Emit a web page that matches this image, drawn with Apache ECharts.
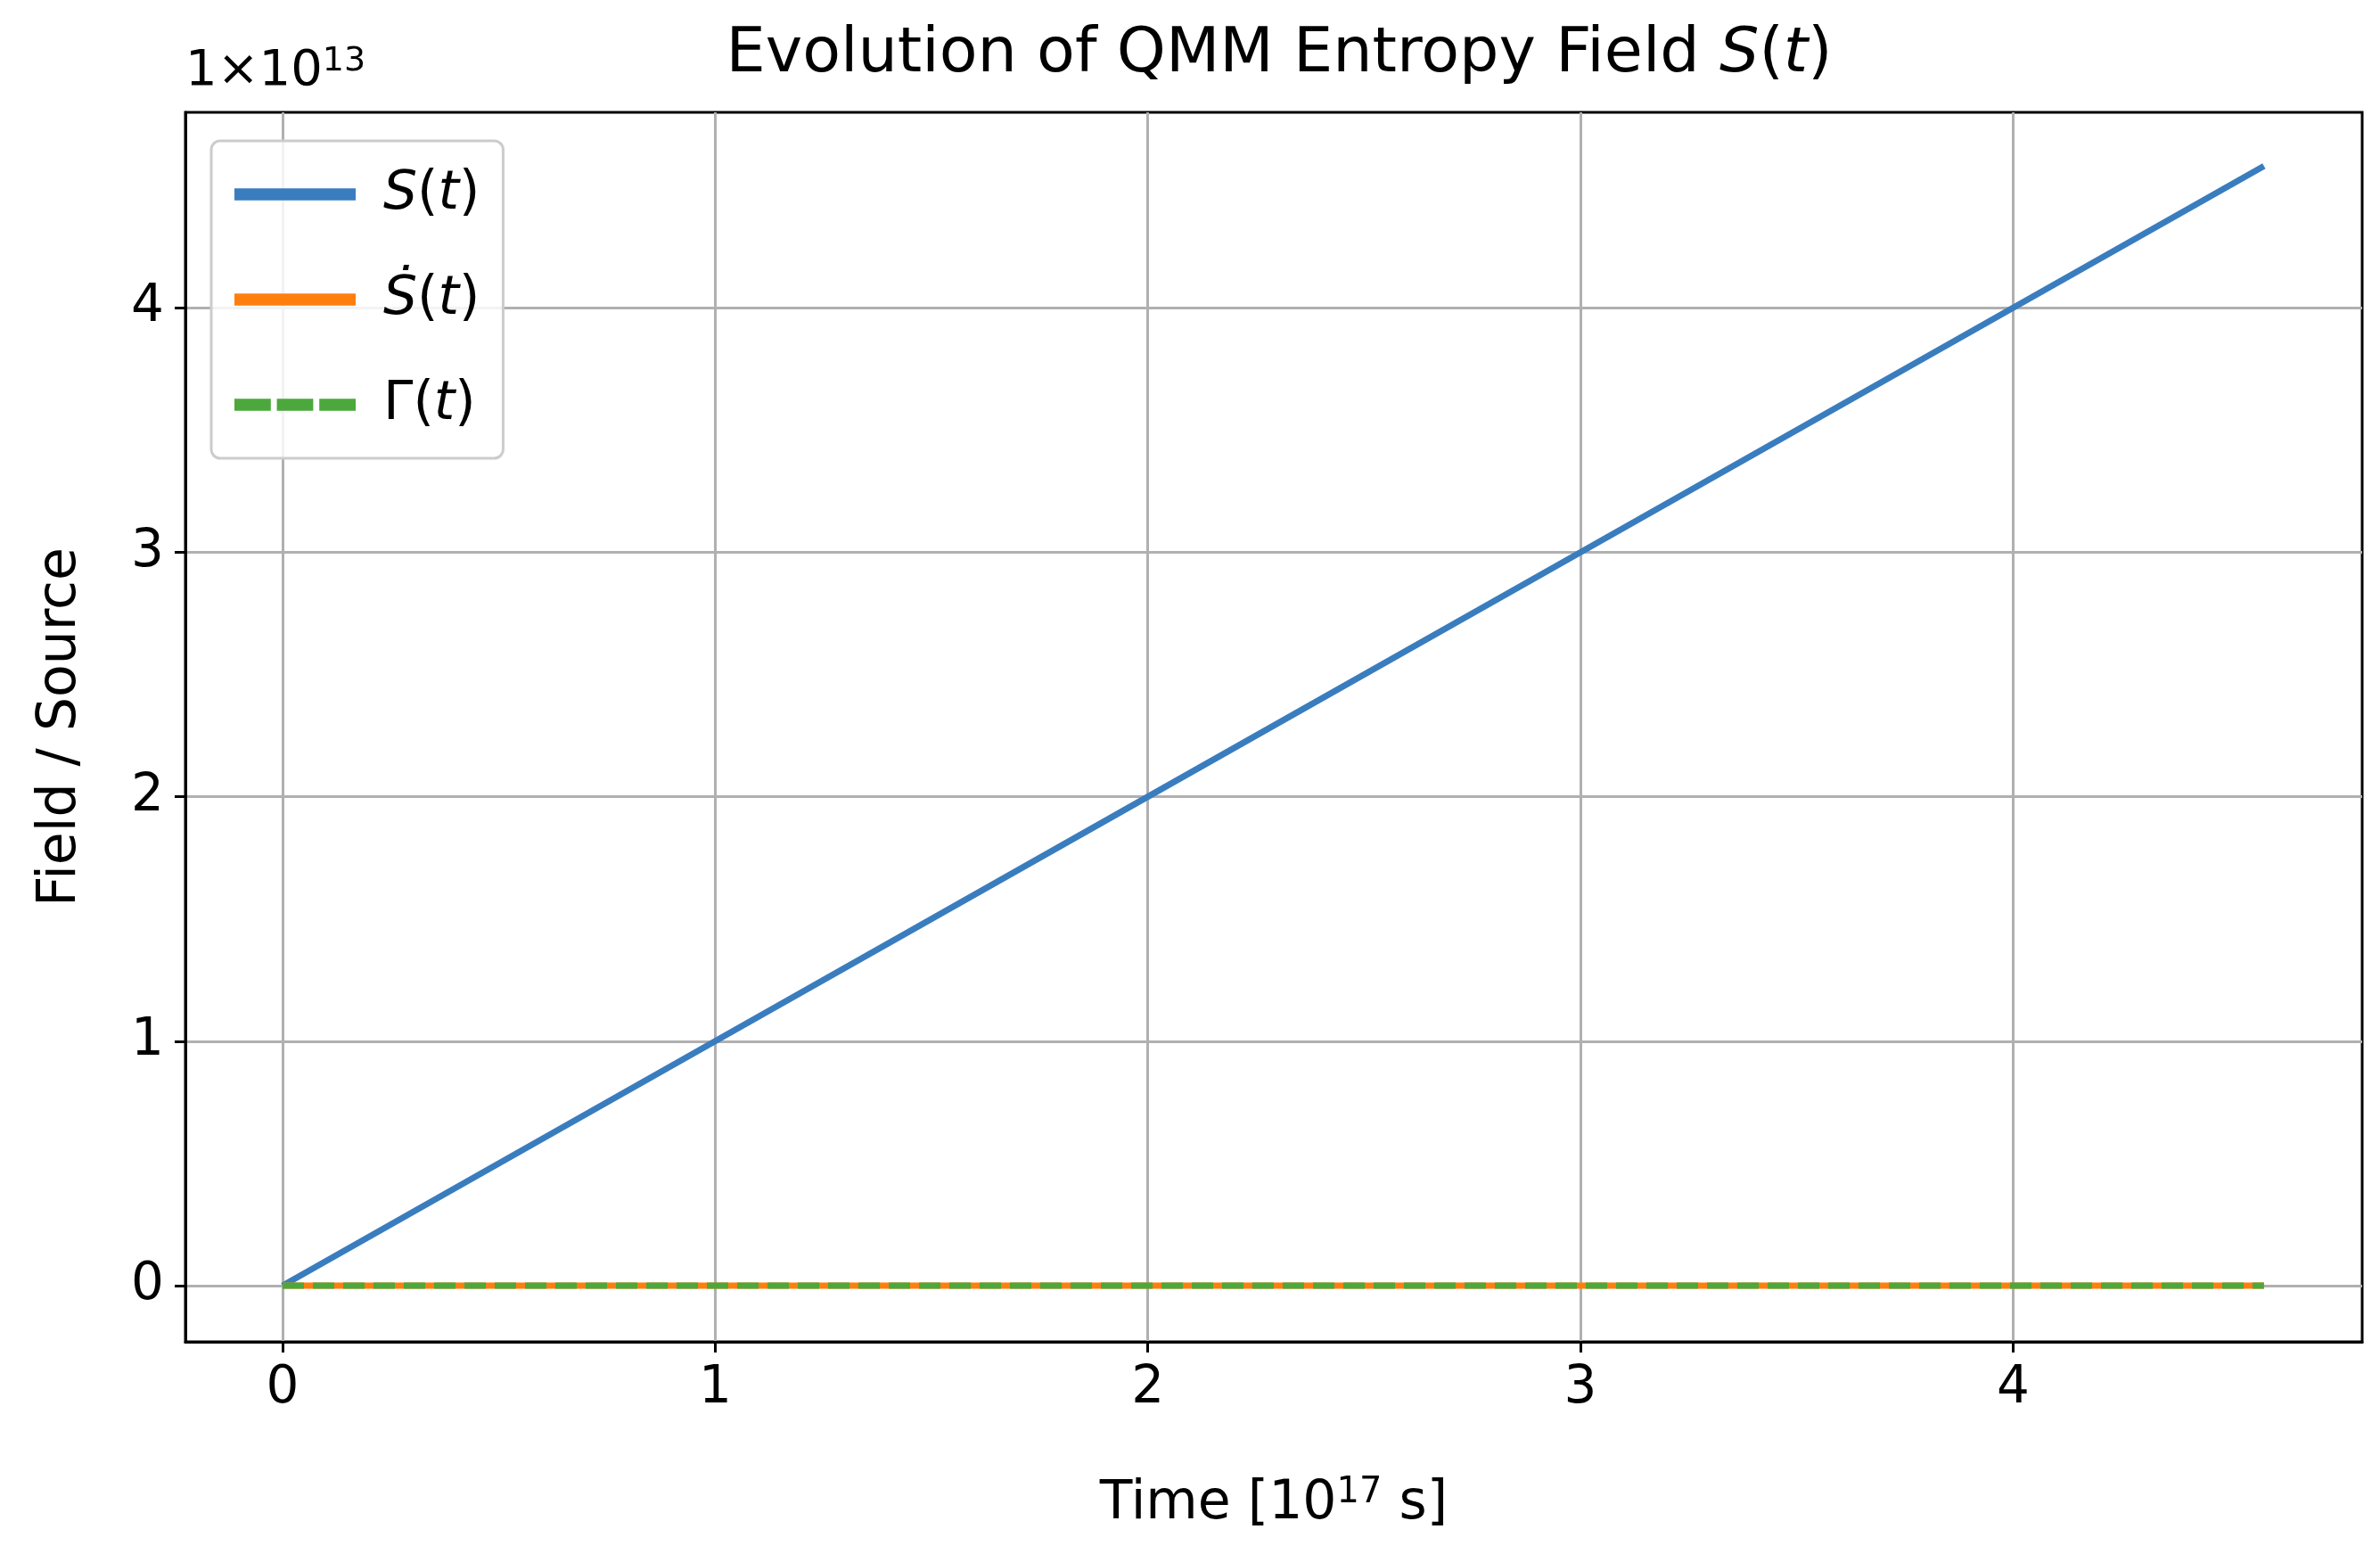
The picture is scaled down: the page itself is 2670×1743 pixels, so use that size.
<!DOCTYPE html>
<html><head><meta charset="utf-8">
<script src="https://cdn.jsdelivr.net/npm/echarts@6/dist/echarts.min.js"></script>
<style>html,body{margin:0;padding:0;background:#fff}#c{width:2670px;height:1743px}</style>
</head><body><div id="c"></div>
<script>
const timeValues = [0, 1, 2, 3, 4, 4.58];
const entropyValues = [0, 1, 2, 3, 4, 4.58];
const rateValues = [0, 0, 0, 0, 0, 0];
const gammaValues = [0, 0, 0, 0, 0, 0];
const xTicks = [0, 1, 2, 3, 4];
const yTicks = [0, 1, 2, 3, 4];
const pair = (xs, ys) => xs.map((x, i) => [x, ys[i]]);
const F = 'DejaVu Sans';
const chart = echarts.init(document.getElementById('c'));
const rich = {i:{fontFamily:F,fontStyle:'italic',fontSize:60,color:'#000',padding:[0,0,0,0]}, n:{fontFamily:F,fontSize:60,color:'#000'}, g:{width:26}};
chart.setOption({
  animation:false,
  title:{text:'{n|Evolution of QMM Entropy Field }{i|S}{n|(}{i|t}{n|)}',left:1430,top:22,textAlign:'center',
    textStyle:{fontWeight:'normal',rich:{n:{fontFamily:F,fontSize:70,fontWeight:'normal',color:'#000'},i:{fontFamily:F,fontSize:70,fontWeight:'normal',fontStyle:'italic',color:'#000'}}}},
  grid:{left:208,right:20,top:126,bottom:238,show:true,borderColor:'#000',borderWidth:3,backgroundColor:'transparent'},
  xAxis:{type:'value',min:-0.2246,max:4.807,
    axisLine:{onZero:false,lineStyle:{color:'#000',width:3}},
    axisTick:{customValues:xTicks,length:12,lineStyle:{color:'#000',width:3}},
    axisLabel:{customValues:xTicks,fontFamily:F,fontSize:58,color:'#000',margin:24},
    splitLine:{show:true,lineStyle:{color:'#b0b0b0',width:3}},
    name:'{n|Time [10}{s|17}{n| s]}',nameLocation:'middle',nameGap:150,
    nameTextStyle:{rich:{n:{fontFamily:F,fontSize:60,color:'#000'},s:{fontFamily:F,fontSize:40,color:'#000',verticalAlign:'top',padding:[0,0,24,0]}}}},
  yAxis:{type:'value',min:-0.23,max:4.80,
    axisLine:{show:true,onZero:false,lineStyle:{color:'#000',width:3}},
    axisTick:{show:true,customValues:yTicks,length:12,lineStyle:{color:'#000',width:3}},
    axisLabel:{customValues:yTicks,fontFamily:F,fontSize:58,color:'#000',margin:24},
    splitLine:{show:true,lineStyle:{color:'#b0b0b0',width:3}},
    name:'Field / Source',nameLocation:'middle',nameGap:110,
    nameTextStyle:{fontFamily:F,fontSize:60,color:'#000'}},
  legend:{orient:'vertical',left:237,top:158,itemWidth:136,itemHeight:22,itemGap:58,
    padding:[30,26,30,26],borderColor:'#cccccc',borderWidth:3,borderRadius:10,backgroundColor:'rgba(255,255,255,0.85)',
    textStyle:{rich},
    formatter:n=>({S:'{g|}{i|S}{n|(}{i|t}{n|)}',Sdot:'{g|}{i|Ṡ}{n|(}{i|t}{n|)}',G:'{g|}{n|Γ(}{i|t}{n|)}'})[n],
    data:[{name:'S',icon:'path://M0,0H10V1H0Z'},{name:'Sdot',icon:'path://M0,0H10V1H0Z'},
      {name:'G',icon:'path://M0,0H3V1H0ZM3.5,0H6.5V1H3.5ZM7,0H10V1H7Z'}]},
  graphic:[{type:'text',left:208,top:50,style:{text:'{n|1×10}{s|13}',rich:{n:{fontFamily:F,fontSize:56,color:'#000'},s:{fontFamily:F,fontSize:38,color:'#000',verticalAlign:'top',padding:[0,0,22,0]}}}}],
  series:[
    {name:'S',type:'line',data:pair(timeValues,entropyValues),showSymbol:false,lineStyle:{color:'#3a7dbf',width:7},itemStyle:{color:'#3a7dbf'}},
    {name:'Sdot',type:'line',data:pair(timeValues,rateValues),showSymbol:false,lineStyle:{color:'#ff7f0e',width:7},itemStyle:{color:'#ff7f0e'}},
    {name:'G',type:'line',data:pair(timeValues,gammaValues),showSymbol:false,lineStyle:{color:'#4ca83c',width:7,type:[24,10]},itemStyle:{color:'#4ca83c'}}
  ]
});
</script></body></html>
